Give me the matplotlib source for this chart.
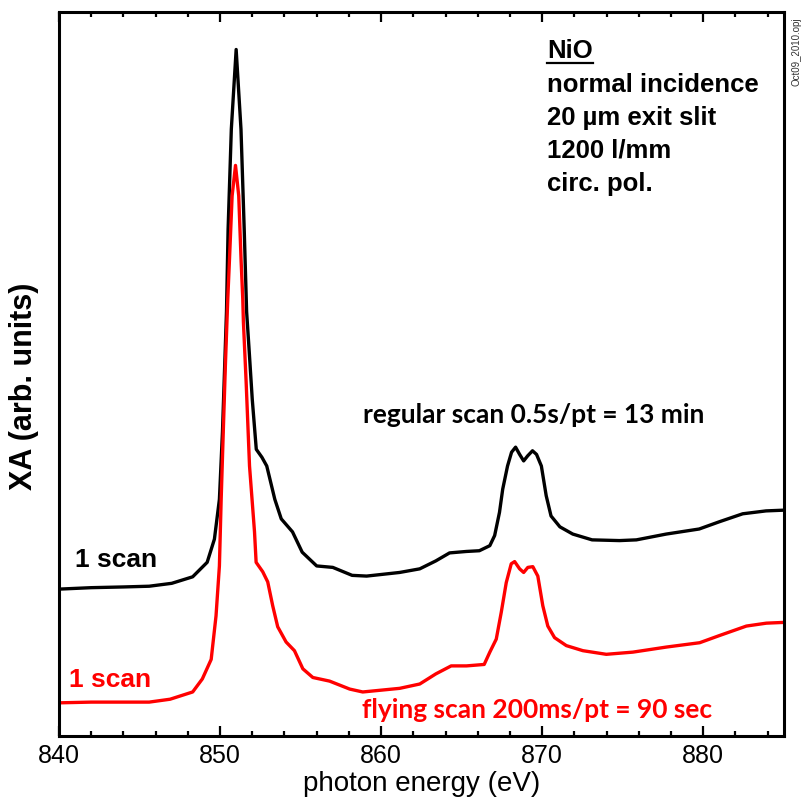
import matplotlib
matplotlib.use("Agg")
import matplotlib.pyplot as plt
from matplotlib.ticker import MultipleLocator, NullLocator

# regular scan (black), photon energy (eV) vs XA (arb. units)
reg_energy = [840.0, 842.0, 844.0, 845.6, 847.0, 848.3, 849.2, 849.65, 849.96, 850.15,
              850.4, 850.5, 850.7, 851.0, 851.3, 851.5, 851.65, 851.8, 852.0, 852.25,
              852.6, 852.9, 853.4, 853.8, 854.5, 855.1, 856.0, 857.0, 858.2, 859.1,
              861.15, 862.4, 863.4, 864.25, 865.3, 866.1, 866.75, 867.05, 867.35, 867.55,
              867.85, 868.1, 868.35, 868.6, 868.85, 869.1, 869.4, 869.65, 869.95, 870.25,
              870.55, 871.1, 871.9, 873.1, 874.8, 875.85, 877.7, 879.75, 881.0, 882.45,
              883.9, 885.0]
reg_xa = [20.3, 20.5, 20.6, 20.7, 21.1, 22.0, 24.0, 27.2, 32.7, 42.0,
          58.6, 70.0, 83.8, 94.8, 83.8, 70.0, 58.6, 53.5, 46.5, 39.6,
          38.5, 37.3, 32.7, 30.0, 28.2, 25.4, 23.5, 23.3, 22.2, 22.1,
          22.6, 23.1, 24.2, 25.3, 25.5, 25.6, 26.3, 27.7, 30.9, 34.1,
          37.3, 39.2, 39.9, 38.9, 38.0, 38.7, 39.4, 38.9, 37.3, 33.2,
          30.4, 28.9, 27.9, 27.1, 27.0, 27.1, 27.9, 28.6, 29.6, 30.7,
          31.1, 31.2]

# flying scan (red)
fly_energy = [840.0, 842.0, 845.6, 846.9, 848.3, 848.9, 849.45, 849.75, 849.96, 850.07,
              850.2, 850.33, 850.48, 850.58, 850.75, 850.96, 851.16, 851.31, 851.41, 851.45,
              851.62, 851.83, 852.14, 852.24, 852.65, 852.96, 853.27, 853.58, 854.1, 854.62,
              855.14, 855.76, 856.8, 858.05, 858.86, 861.15, 862.4, 863.4, 864.35, 865.3,
              866.4, 866.75, 867.15, 867.46, 867.77, 868.08, 868.29, 868.6, 868.85, 869.11,
              869.42, 869.73, 870.04, 870.35, 870.77, 871.5, 872.53, 873.98, 875.63, 877.71,
              879.78, 881.02, 882.68, 883.92, 884.95]
fly_xa = [4.6, 4.7, 4.7, 5.1, 6.1, 7.9, 10.6, 16.6, 23.5, 32.7,
          42.0, 51.1, 60.4, 65.5, 74.6, 78.8, 74.6, 65.5, 60.4, 57.2,
          48.9, 37.3, 28.2, 24.0, 22.7, 21.3, 18.0, 15.1, 13.0, 11.8,
          9.3, 8.1, 7.6, 6.5, 6.1, 6.6, 7.2, 8.6, 9.7, 9.7,
          9.9, 11.6, 13.4, 17.1, 21.2, 23.8, 24.1, 23.1, 22.6, 23.3,
          23.4, 22.1, 18.0, 15.2, 13.6, 12.5, 11.8, 11.3, 11.6, 12.3,
          12.9, 13.9, 15.2, 15.6, 15.7]

x_ticks = [840, 850, 860, 870, 880]
info_title = "NiO"
info_lines = ["normal incidence", "20 \u00b5m exit slit", "1200 l/mm", "circ. pol."]

ARIAL = "Liberation Sans"

fig = plt.figure(figsize=(8.08, 8.03), dpi=100)
ax = fig.add_axes([0.073, 0.082, 0.897, 0.902])

ax.plot(reg_energy, reg_xa, color="black", lw=2.4, solid_joinstyle="round")
ax.plot(fly_energy, fly_xa, color="#ff0000", lw=2.4, solid_joinstyle="round")

ax.set_xlim(840, 885)
ax.set_ylim(0, 100)
ax.set_xticks(x_ticks)
ax.xaxis.set_minor_locator(MultipleLocator(2))
ax.yaxis.set_major_locator(NullLocator())
ax.tick_params(axis="x", which="both", direction="in", top=True, bottom=True, width=1.6)
ax.tick_params(axis="x", which="major", length=7.5, labelsize=18, pad=5)
ax.tick_params(axis="x", which="minor", length=3.8)
for lab in ax.get_xticklabels():
    lab.set_fontfamily(ARIAL)
for s in ax.spines.values():
    s.set_linewidth(2.2)

ax.set_xlabel("photon energy (eV)", fontsize=20, family=ARIAL, labelpad=2)
fig.text(24 / 808, 1 - 386 / 803, "XA (arb. units)", rotation=90, fontsize=22,
         family=ARIAL, fontweight="bold", ha="center", va="center")

# info block
x0 = 0.673
ax.text(x0, 0.938, info_title, transform=ax.transAxes, fontsize=18.5, family=ARIAL,
        fontweight="bold", va="baseline", ha="left")
ax.plot([x0, 0.737], [0.929, 0.929], transform=ax.transAxes, color="black", lw=1.6)
for i, t in enumerate(info_lines):
    ax.text(x0, 0.891 - i * 0.0457, t, transform=ax.transAxes, fontsize=18.5,
            family=ARIAL, fontweight="bold", va="baseline", ha="left")

ax.text(0.419, 0.434, "regular scan 0.5s/pt = 13 min", transform=ax.transAxes, fontsize=19,
        family="Lato", fontweight="bold", color="black", va="baseline", ha="left")
ax.text(0.418, 0.026, "flying scan 200ms/pt = 90 sec", transform=ax.transAxes, fontsize=19,
        family="Lato", fontweight="bold", color="#ff0000", va="baseline", ha="left")
ax.text(0.022, 0.235, "1 scan", transform=ax.transAxes, fontsize=19,
        family=ARIAL, fontweight="bold", color="black", va="baseline", ha="left")
ax.text(0.014, 0.069, "1 scan", transform=ax.transAxes, fontsize=19,
        family=ARIAL, fontweight="bold", color="#ff0000", va="baseline", ha="left")

fig.text(0.986, 0.935, "Oct09_2010.opj", rotation=90, fontsize=7, family=ARIAL,
         va="center", ha="center", color="#333333")

fig.savefig("out.png", dpi=100)
